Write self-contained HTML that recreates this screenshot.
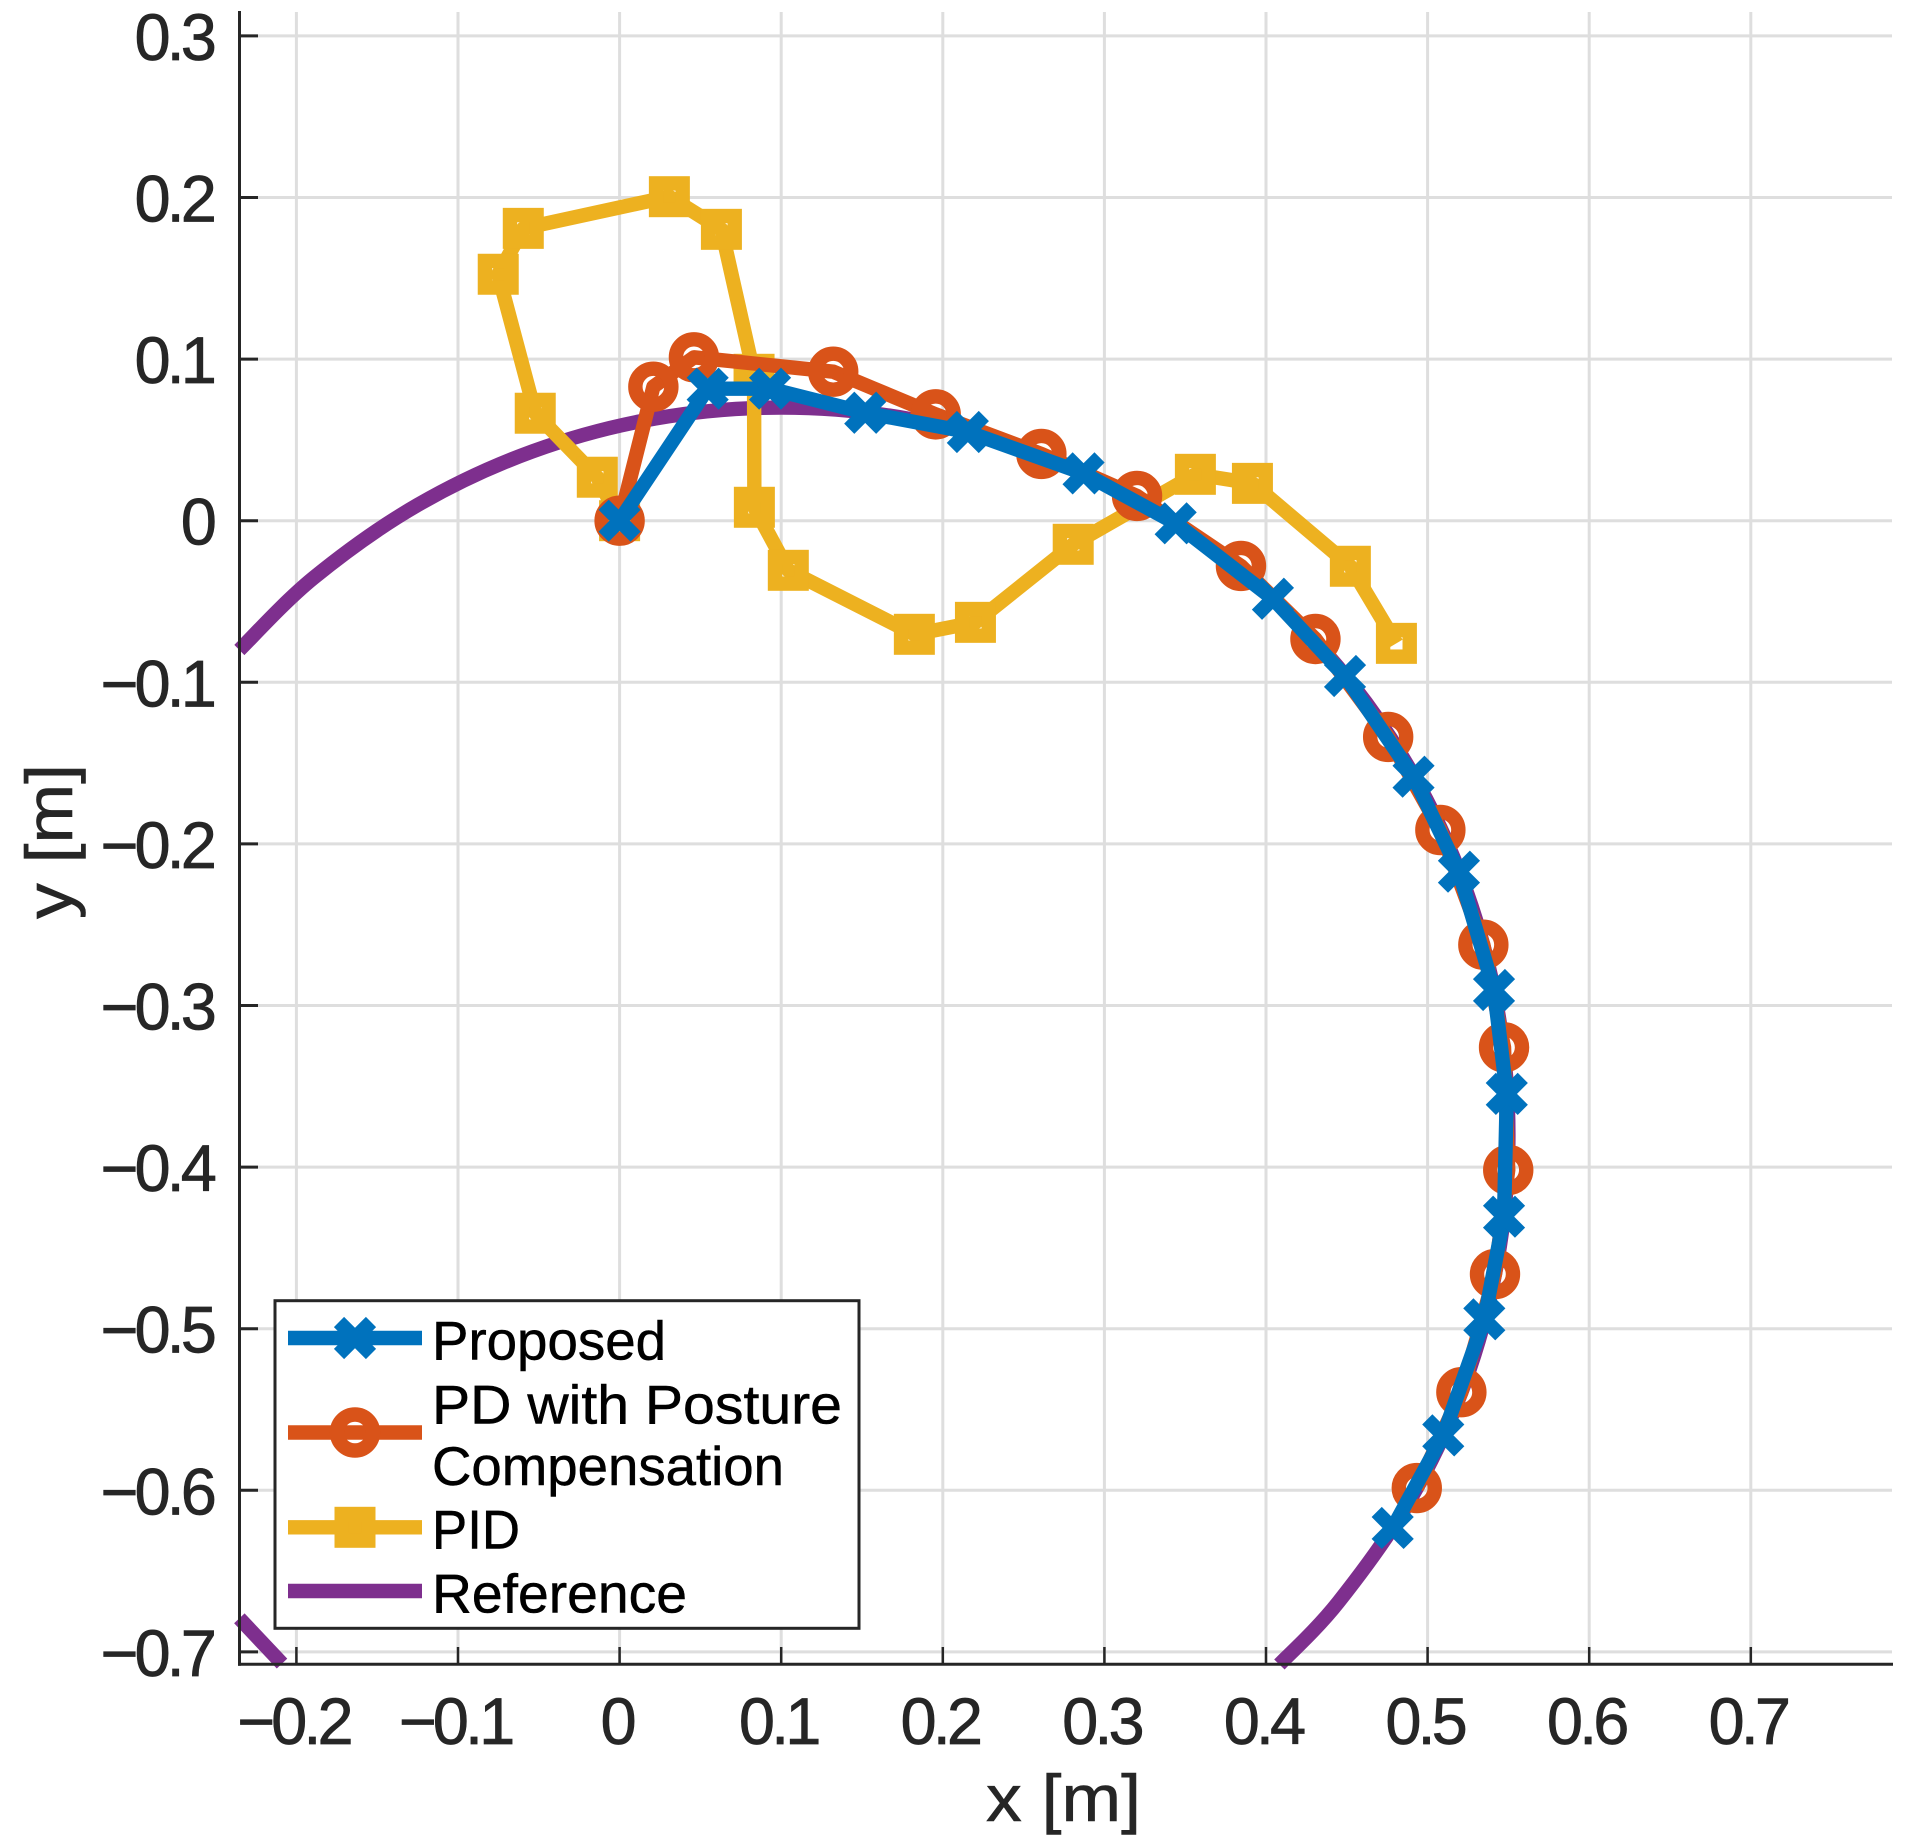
<!DOCTYPE html>
<html lang="en">
<head>
<meta charset="utf-8">
<title>Trajectory comparison chart</title>
<style>
html,body{margin:0;padding:0;background:#fff;}
svg{display:block;font-family:"Liberation Sans","Noto Sans CJK JP",sans-serif;}
</style>
</head>
<body>
<svg id="chart" xmlns="http://www.w3.org/2000/svg" width="1913" height="1841" viewBox="0 0 1913 1841">
<rect x="0" y="0" width="1913" height="1841" fill="#fff"/>
<g id="grid"></g>
<g id="ticks"></g>
<g id="series"></g>
<line x1="239.5" y1="11" x2="239.5" y2="1665.8" stroke="#262626" stroke-width="3"/>
<line x1="238" y1="1664.3" x2="1893" y2="1664.3" stroke="#262626" stroke-width="3"/>
<g id="tick-labels"></g>
<text x="986" y="1821" font-size="66" fill="#262626" stroke="#262626" stroke-width="0.6" textLength="155" lengthAdjust="spacingAndGlyphs">x [m]</text>
<text transform="translate(72,919) rotate(-90)" x="0" y="0" font-size="66" fill="#262626" stroke="#262626" stroke-width="0.6" textLength="155" lengthAdjust="spacingAndGlyphs">y [m]</text>
<g>
<rect x="275" y="1300.7" width="584" height="327.6" fill="#fff" stroke="#262626" stroke-width="3"/>
<g id="legend-samples"></g>
<text x="432" y="1359.3" font-size="55" fill="#000" stroke="#000" stroke-width="0.5" textLength="234" lengthAdjust="spacingAndGlyphs">Proposed</text>
<text x="432" y="1423.3" font-size="55" fill="#000" stroke="#000" stroke-width="0.5" textLength="410" lengthAdjust="spacingAndGlyphs">PD with Posture</text>
<text x="432" y="1485" font-size="55" fill="#000" stroke="#000" stroke-width="0.5" textLength="352" lengthAdjust="spacingAndGlyphs">Compensation</text>
<text x="432" y="1548.3" font-size="55" fill="#000" stroke="#000" stroke-width="0.5" textLength="88" lengthAdjust="spacingAndGlyphs">PID</text>
<text x="432" y="1612.3" font-size="55" fill="#000" stroke="#000" stroke-width="0.5" textLength="255" lengthAdjust="spacingAndGlyphs">Reference</text>
</g>
</svg>
<script>
const xTicks = [-0.2,-0.1,0,0.1,0.2,0.3,0.4,0.5,0.6,0.7];
const yTicks = [0.3,0.2,0.1,0,-0.1,-0.2,-0.3,-0.4,-0.5,-0.6,-0.7];
const xTickLabels = ['\u22120.2','\u22120.1','0','0.1','0.2','0.3','0.4','0.5','0.6','0.7'];
const yTickLabels = ['0.3','0.2','0.1','0','\u22120.1','\u22120.2','\u22120.3','\u22120.4','\u22120.5','\u22120.6','\u22120.7'];

const proposedX = [0,0.0545,0.0931,0.152,0.2155,0.2871,0.3441,0.4043,0.4489,0.4913,0.5194,0.5411,0.549,0.5473,0.5351,0.5097,0.4784];
const proposedY = [0,0.0817,0.0817,0.0668,0.0549,0.0293,-0.0016,-0.0483,-0.0961,-0.1584,-0.2172,-0.2904,-0.3547,-0.4307,-0.4942,-0.566,-0.6233];

const pdX = [0,0.0209,0.046,0.1322,0.1956,0.261,0.3202,0.3845,0.4306,0.4756,0.5079,0.5345,0.5473,0.5499,0.5417,0.5209,0.4933];
const pdY = [0,0.0829,0.1011,0.0922,0.0658,0.0413,0.0153,-0.028,-0.0732,-0.1338,-0.1914,-0.2624,-0.3259,-0.4018,-0.4662,-0.5393,-0.5986];

const pidX = [0,-0.0138,-0.0522,-0.0751,-0.0596,0.0308,0.063,0.0832,0.0834,0.1044,0.1824,0.2202,0.2807,0.3563,0.3916,0.4522,0.4807];
const pidY = [0,0.0269,0.0665,0.1525,0.1809,0.2005,0.1803,0.0906,0.0083,-0.0307,-0.0703,-0.0629,-0.0146,0.0287,0.0231,-0.0282,-0.0759];

const refMainX = [-0.2353,-0.1893,-0.125,-0.0539,0.0219,0.1,0.1781,0.2539,0.325,0.3893,0.4447,0.4897,0.5229,0.5432,0.55,0.5432,0.5229,0.4897,0.4447,0.4083];
const refMainY = [-0.08,-0.0353,0.0097,0.0429,0.0632,0.07,0.0632,0.0429,0.0097,-0.0353,-0.0907,-0.155,-0.2261,-0.3019,-0.38,-0.4581,-0.5339,-0.605,-0.6693,-0.7078];
const refTailX = [-0.2353,-0.2089];
const refTailY = [-0.6792,-0.7072];

const NS = 'http://www.w3.org/2000/svg';
const X0 = 619.6, Y0 = 520.7, K = 1616;
function sx(v){ return X0 + K * v; }
function sy(v){ return Y0 - K * v; }
const BLUE = '#0072BD', ORANGE = '#D95319', YELLOW = '#EDB120', PURPLE = '#7E2F8E', INK = '#262626';
const LW = 14.4;

function mk(tag, parent, attrs){
  const el = document.createElementNS(NS, tag);
  for (const k in attrs) el.setAttribute(k, attrs[k]);
  parent.appendChild(el);
  return el;
}
const grid = document.getElementById('grid');
const ticks = document.getElementById('ticks');
const labels = document.getElementById('tick-labels');
const series = document.getElementById('series');
const legendSamples = document.getElementById('legend-samples');

xTicks.forEach(function(v, i){
  const g = mk('line', grid, {x1:sx(v), x2:sx(v), y1:12, y2:1664, stroke:'#dedede', 'stroke-width':3});
  
  
  const t = mk('line', ticks, {x1:sx(v), x2:sx(v), y1:1664, y2:1647, stroke:INK, 'stroke-width':2.5});
  
  
  const l = mk('text', labels, {transform:'translate(' + (sx(v) - 3) + ',1744) scale(.985,1)', 'text-anchor':'middle', 'font-size':66, 'letter-spacing':-4, fill:INK, stroke:INK, 'stroke-width':0.7});
  l.textContent = xTickLabels[i];
  
  
});
yTicks.forEach(function(v, i){
  const g = mk('line', grid, {x1:239, x2:1892, y1:sy(v), y2:sy(v), stroke:'#dedede', 'stroke-width':3});
  
  
  const t = mk('line', ticks, {x1:240, x2:258, y1:sy(v), y2:sy(v), stroke:INK, 'stroke-width':3});
  
  
  const l = mk('text', labels, {transform:'translate(213,' + (sy(v) + 24) + ') scale(.985,1)', 'text-anchor':'end', 'font-size':66, 'letter-spacing':-4, fill:INK, stroke:INK, 'stroke-width':0.7});
  l.textContent = yTickLabels[i];
  
  
});

function polyPath(xs, ys){
  return xs.map(function(v, i){ return (i ? 'L' : 'M') + sx(v).toFixed(2) + ' ' + sy(ys[i]).toFixed(2); }).join('');
}
function smoothPath(xs, ys){
  const p = xs.map(function(v, i){ return [sx(v), sy(ys[i])]; });
  let d = 'M' + p[0][0] + ' ' + p[0][1];
  for (let i = 0; i < p.length - 1; i++){
    const a = p[Math.max(i - 1, 0)], b = p[i], c = p[i + 1], e = p[Math.min(i + 2, p.length - 1)];
    d += 'C' + (b[0] + (c[0] - a[0]) / 6) + ' ' + (b[1] + (c[1] - a[1]) / 6) + ' ' + (c[0] - (e[0] - b[0]) / 6) + ' ' + (c[1] - (e[1] - b[1]) / 6) + ' ' + c[0] + ' ' + c[1];
  }
  return d;
}
function marker(parent, kind, cx, cy, color){
  let m;
  if (kind === 'x'){
    const d = 16;
    m = mk('path', parent, {d:'M' + (cx - d) + ' ' + (cy - d) + 'L' + (cx + d) + ' ' + (cy + d) + 'M' + (cx - d) + ' ' + (cy + d) + 'L' + (cx + d) + ' ' + (cy - d), fill:'none', stroke:color, 'stroke-width':LW});
  } else if (kind === 'o'){
    m = mk('circle', parent, {cx:cx, cy:cy, r:18, fill:'none', stroke:color, 'stroke-width':LW});
  } else {
    m = mk('rect', parent, {x:cx - 13.3, y:cy - 13.3, width:26.6, height:26.6, fill:'none', stroke:color, 'stroke-width':LW});
  }
  
  
}
function drawSeries(xs, ys, color, kind, lineName){
  const path = mk('path', series, {d:polyPath(xs, ys), fill:'none', stroke:color, 'stroke-width':LW, 'stroke-linejoin':'round'});
  
  
  xs.forEach(function(v, i){ marker(series, kind, sx(v), sy(ys[i]), color); });
}

const refMain = mk('path', series, {d:smoothPath(refMainX, refMainY), fill:'none', stroke:PURPLE, 'stroke-width':LW});


const refTail = mk('path', series, {d:polyPath(refTailX, refTailY), fill:'none', stroke:PURPLE, 'stroke-width':LW});


drawSeries(pidX, pidY, YELLOW, 's', 'pid-line');
drawSeries(pdX, pdY, ORANGE, 'o', 'pd-posture-line');
drawSeries(proposedX, proposedY, BLUE, 'x', 'proposed-line');

function legendSample(y, color, kind, name){
  const l = mk('line', legendSamples, {x1:288, x2:422, y1:y, y2:y, stroke:color, 'stroke-width':LW});
  
  
  if (kind) marker(legendSamples, kind, 355, y, color);
}
legendSample(1338, BLUE, 'x', 'legend-sample-proposed');
legendSample(1432.5, ORANGE, 'o', 'legend-sample-pd');
legendSample(1527.3, YELLOW, 's', 'legend-sample-pid');
legendSample(1591, PURPLE, null, 'legend-sample-reference');
</script>
</body>
</html>
